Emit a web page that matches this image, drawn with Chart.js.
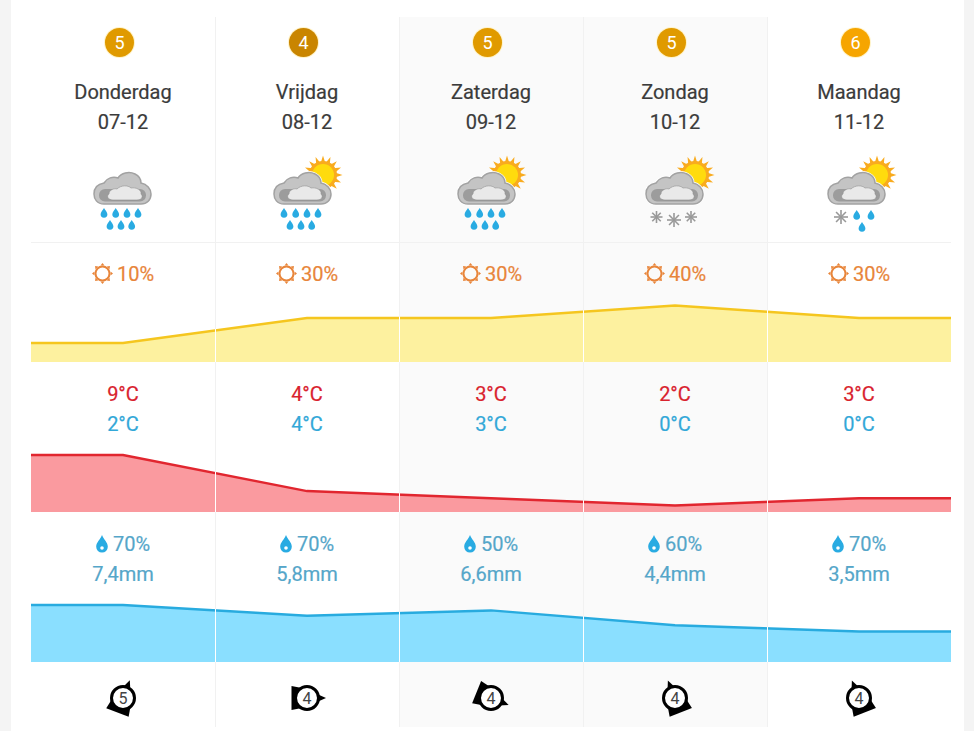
<!DOCTYPE html>
<html>
<head>
<meta charset="utf-8">
<title>Weerbericht</title>
<script src="https://cdn.jsdelivr.net/npm/chart.js@4"></script>
<style>
  html, body { margin: 0; padding: 0; background: #f4f4f4; }
  body { width: 974px; height: 731px; overflow: hidden; position: relative; font-family: Roboto, sans-serif; font-size: 20px; }
  #card { position: absolute; left: 11px; top: 0; width: 953px; height: 731px; background: #fff; }
  .col { position: absolute; top: 17px; width: 184px; height: 710px; box-sizing: border-box; }
  .col.shade { background: #fafafa; }
  .col + .col { border-left: 1px solid #f1f1f1; }
  .txt { position: absolute; width: 184px; text-align: center; line-height: 24px; white-space: nowrap; -webkit-text-stroke: .2px currentColor; }
  .txt svg { vertical-align: -3px; }
  .dark { color: #3b3b3b; }
  .orange { color: #e8853a; }
  .red { color: #d9232e; }
  .blue { color: #33a8d8; }
  .mm { color: #55a6c9; }
  .badge { position: absolute; width: 29px; height: 29px; border-radius: 50%; color: #fff; font-size: 18px; line-height: 29px; text-align: center; box-shadow: 0 0 0 1px #fff3c8; }
  #hr { position: absolute; left: 31px; top: 242px; width: 920px; height: 1px; background: #f1f1f1; }
  canvas { position: absolute; left: 31px; }
  svg.icon { position: absolute; overflow: visible; }
</style>
</head>
<body>
<div id="card"></div>
<div id="cols"></div>
<div id="hr"></div>
<canvas id="sunChart" width="920" height="72" style="top:290px"></canvas>
<canvas id="tempChart" width="920" height="72" style="top:440px"></canvas>
<canvas id="rainChart" width="920" height="72" style="top:590px"></canvas>
<div id="labels"></div>
<script>
// data
const days = ['Donderdag', 'Vrijdag', 'Zaterdag', 'Zondag', 'Maandag'];
const dates = ['07-12', '08-12', '09-12', '10-12', '11-12'];
const badges = [5, 4, 5, 5, 6];
const sunPct = [10, 30, 30, 40, 30];
const tempMax = [9, 4, 3, 2, 3];
const tempMin = [2, 4, 3, 0, 0];
const rainPct = [70, 70, 50, 60, 70];
const rainMm = [7.4, 5.8, 6.6, 4.4, 3.5];
const windForce = [5, 4, 4, 4, 4];
const windBearing = [21, 90, 112, 338, 338];
const weather = ['rain', 'sunrain', 'sunrain', 'sunsnow', 'sunsleet'];

const badgeColors = { 4: '#c98500', 5: '#e09a00', 6: '#f6a500' };
const colLeft = [31, 215, 399, 583, 767];
const colWidth = 184;
const cloudLeft = [94, 273.5, 457.5, 645.5, 828];
const columnEdges = [0.5, 1.5, 2.5, 3.5];

const dropPath = 'M0 -5C1 -3 3.4 -1 3.4 1.3A3.4 3.4 0 0 1 -3.4 1.3C-3.4 -1 -1 -3 0 -5Z';

function sunSvg() {
    let rays = '';
    for (let i = 0; i < 16; i++) {
        const a = i * Math.PI / 8, b = a + 0.2, c = a - 0.2;
        rays += `<polygon fill="#f9ab1e" points="${19.5 * Math.cos(a)},${19.5 * Math.sin(a)} ${12 * Math.cos(b)},${12 * Math.sin(b)} ${12 * Math.cos(c)},${12 * Math.sin(c)}"/>`;
    }
    return `<g transform="translate(49 3)">${rays}<circle r="14" fill="#f9ab1e"/><circle r="11" fill="#ffdb0d"/></g>`;
}

function cloudSvg() {
    const outer = 'M10 32C3 32 0 27 0 22C0 16 4 12 10 11C13 6 19 4 24 6C27 1 35 -1 41 2C45 4 47 8 47 11C53 12 57 17 57 22C57 28 53 32 47 32Z';
    const inner = 'M19 28C14 28 12 24 15 22C15 18 20 16 23 17C27 13 34 13 37 16C42 15 48 18 47 22C50 25 47 28 43 28Z';
    return `<path d="${outer}" fill="#fff" stroke="#fff" stroke-width="3"/>` +
        `<path d="${outer}" fill="#c4c4c4" stroke="#a2a2a2" stroke-width="1.5"/>` +
        `<rect x="5" y="17" width="47" height="12.5" rx="6" fill="#9c9c9c"/>` +
        `<path d="${inner}" fill="#e9e9e9" stroke="#8e8e8e" stroke-width=".6"/>`;
}

function dropsSvg(list) {
    return list.map(p => `<path d="${dropPath}" fill="#29abe2" transform="translate(${p[0]} ${p[1]})"/>`).join('');
}

function flakeSvg(x, y, r) {
    let s = '';
    for (let i = 0; i < 4; i++) {
        const a = i * Math.PI / 4;
        s += `<line x1="${x - r * Math.cos(a)}" y1="${y - r * Math.sin(a)}" x2="${x + r * Math.cos(a)}" y2="${y + r * Math.sin(a)}" stroke="#999" stroke-width="1.6"/>`;
    }
    return s;
}

function weatherSvg(kind, left) {
    const rain = [[10, 41], [21.7, 41], [33, 41], [44, 41], [16, 53], [27, 53], [37.7, 53]];
    let body = '';
    if (kind !== 'rain') body += sunSvg();
    body += cloudSvg();
    if (kind === 'rain' || kind === 'sunrain') body += dropsSvg(rain);
    if (kind === 'sunsnow') body += flakeSvg(10.5, 45, 6) + flakeSvg(28, 48, 7) + flakeSvg(45, 45, 6);
    if (kind === 'sunsleet') body += flakeSvg(13, 45, 7) + dropsSvg([[28.7, 43], [43, 43], [34, 55]]);
    return `<svg class="icon" width="1" height="1" style="left:${left}px;top:172px">${body}</svg>`;
}

function windSvg(cx, bearing, force) {
    return `<svg class="icon" width="1" height="1" style="left:${cx}px;top:697.5px">` +
        `<g transform="rotate(${bearing})">` +
        `<polygon points="-12,15.5 12,15.5 9,0 -9,0" fill="#000"/>` +
        `<polygon points="-4,-10 4,-10 0,-19" fill="#000"/>` +
        `</g><circle r="11.5" fill="#fff" stroke="#000" stroke-width="3"/>` +
        `<text y="5.5" text-anchor="middle" font-size="16" fill="#444">${force}</text></svg>`;
}

function smallSun() {
    let rays = '';
    for (let i = 0; i < 8; i++) {
        rays += `<polygon points="-2,-8 2,-8 0,-10.5" fill="#e8853a" transform="rotate(${i * 45})"/>`;
    }
    return `<svg width="21" height="21" viewBox="-10.5 -10.5 21 21" style="margin-right:4px">${rays}<circle r="7" fill="none" stroke="#e8853a" stroke-width="2"/></svg>`;
}

function smallDrop() {
    return `<svg width="12" height="18" viewBox="-6 -10 12 18" style="margin-right:5px;vertical-align:-2px"><path d="M0 -10C1.5 -5.5 5.8 -3 5.8 1.8A5.8 5.8 0 0 1 -5.8 1.8C-5.8 -3 -1.5 -5.5 0 -10Z" fill="#29abe2"/><circle cy="3" r="1.8" fill="#fff"/></svg>`;
}

function addText(parent, left, top, cls, html) {
    const d = document.createElement('div');
    d.className = 'txt ' + cls;
    d.style.left = left + 'px';
    d.style.top = top + 'px';
    d.innerHTML = html;
    parent.appendChild(d);
}

// kolommen en teksten
const colsEl = document.getElementById('cols');
const labelsEl = document.getElementById('labels');
days.forEach((day, i) => {
    const c = document.createElement('div');
    c.className = 'col' + (i === 2 || i === 3 ? ' shade' : '');
    c.style.left = colLeft[i] + 'px';
    c.style.width = colWidth + 'px';
    colsEl.appendChild(c);

    const left = colLeft[i];
    const b = document.createElement('div');
    b.className = 'badge';
    b.style.left = (left + 74) + 'px';
    b.style.top = '28px';
    b.style.background = badgeColors[badges[i]];
    b.textContent = badges[i];
    labelsEl.appendChild(b);

    addText(labelsEl, left, 80, 'dark', day);
    addText(labelsEl, left, 110, 'dark', dates[i]);
    addText(labelsEl, left, 262, 'orange', smallSun() + sunPct[i] + '%');
    addText(labelsEl, left, 382, 'red', tempMax[i] + '°C');
    addText(labelsEl, left, 412, 'blue', tempMin[i] + '°C');
    addText(labelsEl, left, 532, 'mm', smallDrop() + rainPct[i] + '%');
    addText(labelsEl, left, 562, 'mm', String(rainMm[i]).replace('.', ',') + 'mm');

    labelsEl.insertAdjacentHTML('beforeend', weatherSvg(weather[i], cloudLeft[i]));
    labelsEl.insertAdjacentHTML('beforeend', windSvg(left + 92, windBearing[i], windForce[i]));
});

// witte scheidingslijnen alleen over het gevulde vlak
const columnGaps = {
    id: 'columnGaps',
    afterDatasetsDraw(chart) {
        const { ctx, scales, chartArea } = chart;
        ctx.save();
        ctx.globalCompositeOperation = 'source-atop';
        ctx.strokeStyle = '#fff';
        ctx.lineWidth = 1;
        columnEdges.forEach(v => {
            const x = Math.round(scales.x.getPixelForValue(v)) + 0.5;
            ctx.beginPath();
            ctx.moveTo(x, chartArea.top);
            ctx.lineTo(x, chartArea.bottom);
            ctx.stroke();
        });
        ctx.restore();
    }
};

function makeArea(id, values, yMin, yMax, stroke, fill) {
    const points = [{ x: -0.5, y: values[0] }]
        .concat(values.map((y, x) => ({ x, y })))
        .concat([{ x: 4.5, y: values[values.length - 1] }]);
    new Chart(document.getElementById(id), {
        type: 'line',
        data: {
            datasets: [{
                data: points,
                borderColor: stroke,
                borderWidth: 2.5,
                backgroundColor: fill,
                fill: 'start',
                pointRadius: 0,
                tension: 0
            }]
        },
        options: {
            responsive: false,
            animation: false,
            devicePixelRatio: 1,
            layout: { padding: 0 },
            plugins: { legend: { display: false }, tooltip: { enabled: false } },
            scales: {
                x: { type: 'linear', min: -0.5, max: 4.5, display: false },
                y: { min: yMin, max: yMax, display: false }
            }
        },
        plugins: [columnGaps]
    });
}

makeArea('sunChart', sunPct, -5.2, 52.4, '#f5c61f', '#fdf19f');
makeArea('tempChart', tempMax, 1.1, 11.1, '#e1262f', '#fa9a9f');
makeArea('rainChart', rainMm, -1, 9.6, '#28abdf', '#8adfff');
</script>
</body>
</html>
